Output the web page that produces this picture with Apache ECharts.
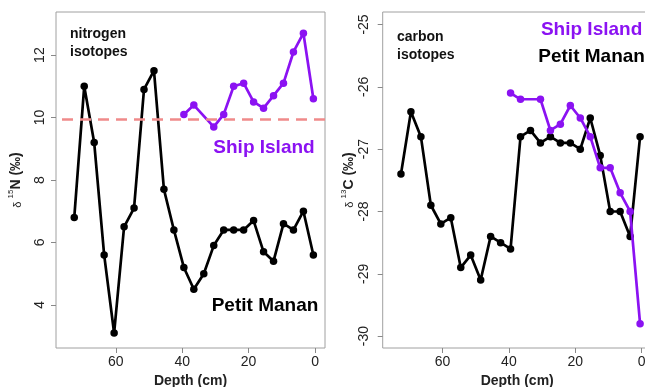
<!DOCTYPE html>
<html>
<head>
<meta charset="utf-8">
<script src="https://cdn.jsdelivr.net/npm/echarts@6/dist/echarts.min.js"></script>
<style>
html,body{margin:0;padding:0;background:#fff;}
#c{width:645px;height:387px;}
</style>
</head>
<body>
<div id="c"></div>
<script>
// Depth (cm) for Petit Manan cores
const depths = [72.5, 69.5, 66.5, 63.5, 60.5, 57.5, 54.5, 51.5, 48.5, 45.5, 42.5, 39.5, 36.5, 33.5, 30.5, 27.5, 24.5, 21.5, 18.5, 15.5, 12.5, 9.5, 6.5, 3.5, 0.5];
// Depth (cm) for Ship Island cores
const shipDepths = [39.5, 36.5, 33.5, 30.5, 27.5, 24.5, 21.5, 18.5, 15.5, 12.5, 9.5, 6.5, 3.5, 0.5];

const petitN = [6.8, 11.0, 9.2, 5.6, 3.1, 6.5, 7.1, 10.9, 11.5, 7.7, 6.4, 5.2, 4.5, 5.0, 5.9, 6.4, 6.4, 6.4, 6.7, 5.7, 5.4, 6.6, 6.4, 7.0, 5.6];
const shipN = [10.1, 10.4, null, 9.7, 10.1, 11.0, 11.1, 10.5, 10.3, 10.7, 11.1, 12.1, 12.7, 10.6];
const petitC = [-27.4, -26.4, -26.8, -27.9, -28.2, -28.1, -28.9, -28.7, -29.1, -28.4, -28.5, -28.6, -26.8, -26.7, -26.9, -26.8, -26.9, -26.9, -27.0, -26.5, -27.1, -28.0, -28.0, -28.4, -26.8];
const shipC = [-26.1, -26.2, null, -26.2, -26.7, -26.6, -26.3, -26.5, -26.8, -27.3, -27.3, -27.7, -28.0, -29.8];

const refLineN = 9.95;
const xTicks = [0, 20, 40, 60];
const yTicksN = [4, 6, 8, 10, 12];
const yTicksC = [-30, -29, -28, -27, -26, -25];

const PURPLE = '#8B12F2';
const FONT = 'Liberation Sans, Arial, sans-serif';

function pairs(xs, ys) { return xs.map((x, i) => [x, ys[i]]); }

function xAxisCfg(gridIndex) {
  return {
    gridIndex, type: 'value', inverse: true, min: -3, max: 78,
    axisLine: { show: false, onZero: false },
    axisTick: { show: true, inside: false, length: 5, lineStyle: { color: '#888', width: 1 }, customValues: xTicks },
    axisLabel: { show: true, margin: 7, fontSize: 14, color: '#222', fontFamily: FONT, customValues: xTicks },
    splitLine: { show: false },
    name: 'Depth (cm)', nameLocation: 'middle', nameGap: 23,
    nameTextStyle: { fontSize: 14, fontWeight: 'bold', color: '#222', fontFamily: FONT }
  };
}
function yAxisCfg(gridIndex, min, max, ticks, nameRich, gap, labelMargin) {
  return {
    gridIndex, type: 'value', min, max,
    axisLine: { show: false, onZero: false },
    axisTick: { show: true, inside: false, length: 5, lineStyle: { color: '#888', width: 1 }, customValues: ticks },
    axisLabel: { show: true, rotate: 90, margin: labelMargin, fontSize: 14, color: '#222', fontFamily: FONT, customValues: ticks },
    splitLine: { show: false },
    name: nameRich, nameLocation: 'middle', nameRotate: 90, nameGap: gap,
    nameTextStyle: {
      fontFamily: FONT, color: '#222',
      rich: {
        d: { fontSize: 11, fontFamily: FONT, color: '#222', lineHeight: 16, verticalAlign: 'bottom' },
        s: { fontSize: 8, fontFamily: FONT, color: '#222', lineHeight: 16, verticalAlign: 'top' },
        b: { fontSize: 14, fontWeight: 'bold', fontFamily: FONT, color: '#222', lineHeight: 16, verticalAlign: 'bottom' }
      }
    }
  };
}
function lineSeries(xi, yi, data, color, z) {
  return {
    type: 'line', xAxisIndex: xi, yAxisIndex: yi, data, connectNulls: true,
    symbol: 'circle', symbolSize: 7.5, showSymbol: true,
    itemStyle: { color }, lineStyle: { color, width: 2.7 }, z, animation: false
  };
}

const chart = echarts.init(document.getElementById('c'), null, { renderer: 'canvas' });
chart.setOption({
  animation: false,
  backgroundColor: '#fff',
  grid: [
    { left: 56, top: 12, width: 269, height: 336, show: true, borderColor: '#a0a0a0', borderWidth: 1, backgroundColor: 'transparent', outerBoundsMode: 'none', containLabel: false },
    { left: 382.7, top: 12, width: 269, height: 336, show: true, borderColor: '#a0a0a0', borderWidth: 1, backgroundColor: 'transparent', outerBoundsMode: 'none', containLabel: false }
  ],
  xAxis: [xAxisCfg(0), xAxisCfg(1)],
  yAxis: [
    yAxisCfg(0, 2.62, 13.38, yTicksN, '{d|δ }{s|15}{b|N (‰)}', 33, 9),
    yAxisCfg(1, -30.19, -24.8, yTicksC, '{d|δ }{s|13}{b|C (‰)}', 24, 12)
  ],
  series: [
    Object.assign(lineSeries(0, 0, pairs(depths, petitN), '#000', 3), {
      markLine: {
        silent: true, symbol: 'none', animation: false,
        label: { show: false },
        lineStyle: { color: '#F08A8A', width: 2.5, type: [11, 7] },
        data: [{ yAxis: refLineN }]
      }
    }),
    lineSeries(0, 0, pairs(shipDepths, shipN), PURPLE, 4),
    lineSeries(1, 1, pairs(depths, petitC), '#000', 3),
    lineSeries(1, 1, pairs(shipDepths, shipC), PURPLE, 4)
  ],
  graphic: [
    { type: 'text', left: 70, top: 25, style: { text: 'nitrogen\nisotopes', font: 'bold 14px ' + FONT, fill: '#111', lineHeight: 18 } },
    { type: 'text', x: 264, y: 148, style: { text: 'Ship Island', font: 'bold 19px ' + FONT, fill: PURPLE, align: 'center', verticalAlign: 'middle' } },
    { type: 'text', x: 265, y: 306, style: { text: 'Petit Manan', font: 'bold 19px ' + FONT, fill: '#000', align: 'center', verticalAlign: 'middle' } },
    { type: 'text', left: 397, top: 28, style: { text: 'carbon\nisotopes', font: 'bold 14px ' + FONT, fill: '#111', lineHeight: 18 } },
    { type: 'text', x: 591.6, y: 30, style: { text: 'Ship Island', font: 'bold 19px ' + FONT, fill: PURPLE, align: 'center', verticalAlign: 'middle' } },
    { type: 'text', x: 591.6, y: 57, style: { text: 'Petit Manan', font: 'bold 19px ' + FONT, fill: '#000', align: 'center', verticalAlign: 'middle' } }
  ]
});
</script>
</body>
</html>
